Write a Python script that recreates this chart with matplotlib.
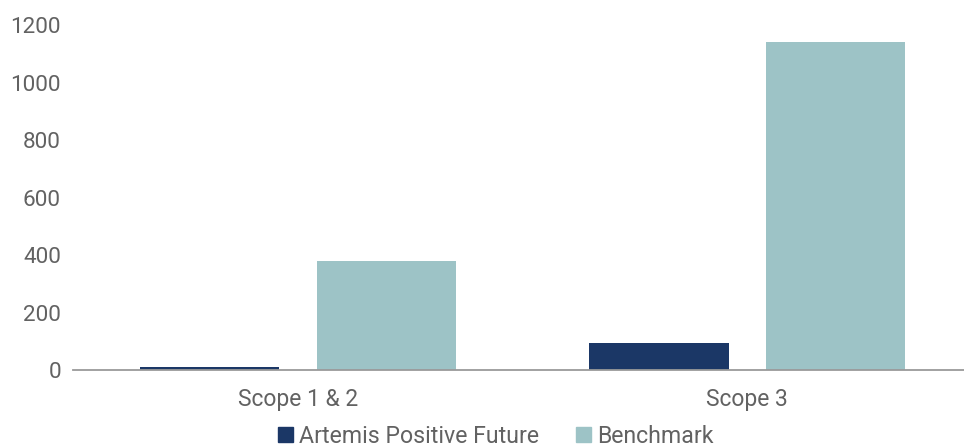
import numpy as np
import matplotlib.pyplot as plt
from matplotlib.patches import Patch

# Emisiones por alcance: fondo vs. índice de referencia
categorias = ["Scope 1 & 2", "Scope 3"]
artemis = [12, 94]
benchmark = [381, 1141]

color_artemis = "#1b3766"
color_bench = "#9dc3c6"
color_texto = "#626262"

plt.rcParams["font.family"] = ["Roboto", "DejaVu Sans"]

fig = plt.figure(figsize=(9.64, 4.48), dpi=100)
ax = fig.add_axes([73.4 / 964, 0.1734, 898.5 / 964, 0.770])

x = np.arange(len(categorias))
ancho = 0.31
sep = 0.0825
ax.bar(x - (ancho + sep) / 2, artemis, ancho, color=color_artemis)
ax.bar(x + (ancho + sep) / 2, benchmark, ancho, color=color_bench)

ax.set_xlim(-0.5, len(categorias) - 0.5)
ax.set_ylim(0, 1200)
ax.set_yticks(range(0, 1201, 200))
ax.set_xticks(x)
ax.set_xticklabels(categorias)

for lado in ["top", "right", "left"]:
    ax.spines[lado].set_visible(False)
ax.spines["bottom"].set_color("#9a9a9a")
ax.spines["bottom"].set_linewidth(1.3)

ax.tick_params(axis="y", length=0, pad=9, labelsize=16.2, labelcolor=color_texto)
ax.tick_params(axis="x", length=0, pad=13, labelsize=16.5, labelcolor=color_texto)

handles = [Patch(color=color_artemis, label="Artemis Positive Future"),
           Patch(color=color_bench, label="Benchmark")]
fig.legend(handles=handles, loc="center", bbox_to_anchor=(496 / 964, 1 - 436 / 448),
           ncol=2, frameon=False, fontsize=16.7, labelcolor=color_texto,
           handlelength=0.62, handleheight=0.62, handletextpad=0.28,
           columnspacing=1.6, borderaxespad=0, borderpad=0)

plt.savefig("out.png", dpi=100)
plt.close()
